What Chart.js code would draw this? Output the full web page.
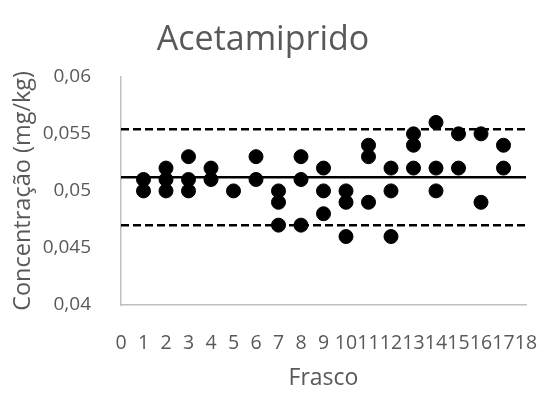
<!DOCTYPE html>
<html>
<head>
<meta charset="utf-8">
<script src="https://cdn.jsdelivr.net/npm/chart.js@4/dist/chart.umd.min.js"></script>
<style>
  html, body { margin: 0; padding: 0; background: #ffffff; }
  #wrap { width: 539px; height: 394px; position: relative; }
</style>
</head>
<body>
<div id="wrap"><canvas id="chart"></canvas></div>
<script>
// Frasco number and measured concentration (mg/kg) for each replicate
const frasco = [
  1, 1,
  2, 2, 2,
  3, 3, 3,
  4, 4,
  5,
  6, 6,
  7, 7, 7,
  8, 8, 8,
  9, 9, 9,
  10, 10, 10,
  11, 11, 11,
  12, 12, 12,
  13, 13, 13,
  14, 14, 14,
  15, 15,
  16, 16,
  17, 17
];
const concentracao = [
  0.051, 0.050,
  0.052, 0.051, 0.050,
  0.053, 0.051, 0.050,
  0.052, 0.051,
  0.050,
  0.053, 0.051,
  0.050, 0.049, 0.047,
  0.053, 0.051, 0.047,
  0.052, 0.050, 0.048,
  0.050, 0.049, 0.046,
  0.054, 0.053, 0.049,
  0.052, 0.050, 0.046,
  0.055, 0.054, 0.052,
  0.056, 0.052, 0.050,
  0.055, 0.052,
  0.055, 0.049,
  0.054, 0.052
];

// Mean and control limits
const media = 0.0512;
const limiteSuperior = 0.0554;
const limiteInferior = 0.0470;
const xRange = [0, 18];

const yTicks = [0.04, 0.045, 0.05, 0.055, 0.06];

const textColor = '#595959';
const fontFamily = '"Open Sans", "DejaVu Sans", sans-serif';

const pontos = frasco.map((f, i) => ({ x: f, y: concentracao[i] }));
const linha = v => xRange.map(x => ({ x: x, y: v }));

new Chart(document.getElementById('chart'), {
  type: 'scatter',
  data: {
    datasets: [
      {
        label: 'Concentração',
        data: pontos,
        backgroundColor: '#000000',
        borderColor: '#000000',
        pointRadius: 7,
        pointHoverRadius: 7,
        order: 0
      },
      {
        label: 'Média',
        type: 'line',
        data: linha(media),
        borderColor: '#000000',
        borderWidth: 2.5,
        pointRadius: 0,
        order: 1
      },
      {
        label: 'Limite superior',
        type: 'line',
        data: linha(limiteSuperior),
        borderColor: '#000000',
        borderWidth: 2.5,
        borderDash: [8, 4],
        pointRadius: 0,
        order: 1
      },
      {
        label: 'Limite inferior',
        type: 'line',
        data: linha(limiteInferior),
        borderColor: '#000000',
        borderWidth: 2.5,
        borderDash: [8, 4],
        pointRadius: 0,
        order: 1
      }
    ]
  },
  options: {
    responsive: true,
    maintainAspectRatio: false,
    animation: false,
    layout: { padding: { left: 0, right: 13, top: 0, bottom: 0 } },
    plugins: {
      legend: { display: false },
      tooltip: { enabled: false },
      title: {
        display: true,
        text: 'Acetamiprido',
        color: textColor,
        font: { family: fontFamily, size: 34, weight: 'normal' },
        padding: { top: 20, bottom: 16 }
      }
    },
    scales: {
      x: {
        type: 'linear',
        min: xRange[0],
        max: xRange[1],
        grid: { display: false, drawTicks: false },
        border: { display: true, color: '#bfbfbf', width: 1.5 },
        ticks: {
          stepSize: 1,
          autoSkip: false,
          maxRotation: 0,
          minRotation: 0,
          padding: 27,
          color: textColor,
          font: { family: fontFamily, size: 19.5 }
        },
        title: {
          display: true,
          text: 'Frasco',
          color: textColor,
          font: { family: fontFamily, size: 23 },
          padding: { top: 4, bottom: 2 }
        },
        afterFit: s => {
          s.height = 89;
          s.paddingLeft = 0;
          s.paddingRight = 0;
        }
      },
      y: {
        type: 'linear',
        min: yTicks[0],
        max: yTicks[yTicks.length - 1],
        grid: { display: false, drawTicks: false },
        border: { display: true, color: '#bfbfbf', width: 1.5 },
        afterBuildTicks: s => { s.ticks = yTicks.map(v => ({ value: v })); },
        ticks: {
          padding: 30,
          color: textColor,
          font: { family: fontFamily, size: 19 },
          callback: v => String(Number(v.toFixed(3))).replace('.', ',')
        },
        title: {
          display: true,
          text: 'Concentração (mg/kg)',
          color: textColor,
          font: { family: fontFamily, size: 23.5 },
          padding: { top: 9, bottom: 0 }
        },
        afterFit: s => {
          s.width = 121;
          s.paddingTop = 0;
          s.paddingBottom = 0;
        }
      }
    }
  }
});
</script>
</body>
</html>
